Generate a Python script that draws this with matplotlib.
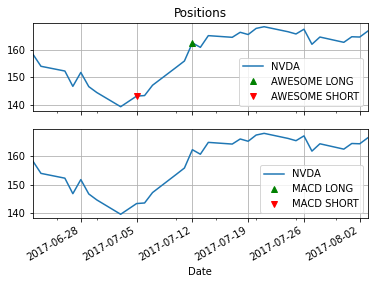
import matplotlib
matplotlib.use("Agg")
import matplotlib.pyplot as plt
import matplotlib.dates as mdates
import pandas as pd

dates = ["2017-06-22", "2017-06-23", "2017-06-26", "2017-06-27", "2017-06-28",
         "2017-06-29", "2017-06-30", "2017-07-03", "2017-07-05", "2017-07-06",
         "2017-07-07", "2017-07-10", "2017-07-11", "2017-07-12", "2017-07-13",
         "2017-07-14", "2017-07-17", "2017-07-18", "2017-07-19", "2017-07-20",
         "2017-07-21", "2017-07-24", "2017-07-25", "2017-07-26", "2017-07-27",
         "2017-07-28", "2017-07-31", "2017-08-01", "2017-08-02", "2017-08-03"]
nvda = [158.3, 154.0, 152.3, 146.8, 151.8,
        146.7, 144.6, 139.5, 143.3, 143.5,
        147.2, 153.7, 155.9, 162.4, 160.8,
        165.0, 164.4, 166.2, 165.4, 167.6,
        168.2, 166.4, 165.6, 167.3, 161.9,
        164.5, 162.6, 164.6, 164.5, 166.6]

awesome_long_dates = ["2017-07-12"]
awesome_long_prices = [162.4]
awesome_short_dates = ["2017-07-05"]
awesome_short_prices = [143.3]
macd_long_dates = []
macd_long_prices = []
macd_short_dates = []
macd_short_prices = []

x = pd.to_datetime(dates)

fig = plt.figure(figsize=(378 / 72, 284 / 72), dpi=72)
ax1 = fig.add_axes([0.0873, 0.6102, 0.8855, 0.3098])
ax2 = fig.add_axes([0.0873, 0.2313, 0.8855, 0.3134], sharex=ax1)

def panel(ax, name, ld, lp, sd, sp):
    ax.plot(x, nvda, color="#1f77b4", lw=1.5, label="NVDA")
    ax.plot(pd.to_datetime(ld), lp, "^", color="green", ls="none", label=f"{name} LONG")
    ax.plot(pd.to_datetime(sd), sp, "v", color="red", ls="none", label=f"{name} SHORT")
    ax.grid(True, color="#b0b0b0", lw=0.8)
    ax.set_yticks([140, 150, 160])
    ax.legend(loc="lower right", fontsize=10)

panel(ax1, "AWESOME", awesome_long_dates, awesome_long_prices,
      awesome_short_dates, awesome_short_prices)
panel(ax2, "MACD", macd_long_dates, macd_long_prices,
      macd_short_dates, macd_short_prices)

ax1.set_title("Positions", fontsize=12)
ax1.set_xlim(x[0], x[-1])
ax2.xaxis.set_major_locator(mdates.WeekdayLocator(byweekday=mdates.WE))
ax2.xaxis.set_minor_locator(mdates.DayLocator(bymonthday=[5, 10, 15, 20, 25, 30]))
ax2.xaxis.set_major_formatter(mdates.DateFormatter("%Y-%m-%d"))
plt.setp(ax1.get_xticklabels(), visible=False)
for lbl in ax2.get_xticklabels():
    lbl.set_rotation(30)
    lbl.set_ha("right")
ax2.set_xlabel("Date")

for ax in (ax1, ax2):
    ax.tick_params(labelsize=10)

fig.savefig("out.png", dpi=72)
